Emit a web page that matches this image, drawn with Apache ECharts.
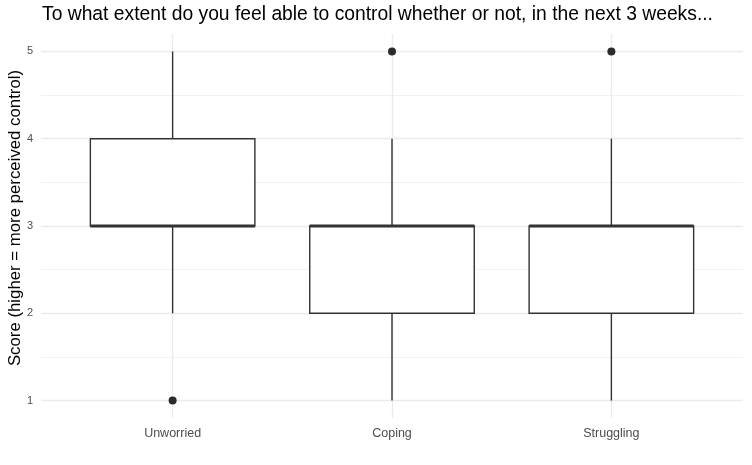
<!DOCTYPE html>
<html>
<head>
<meta charset="utf-8">
<script src="https://cdn.jsdelivr.net/npm/echarts@6/dist/echarts.min.js"></script>
<style>
  html, body { margin: 0; padding: 0; background: #fff; }
  #main { width: 752px; height: 465px; }
</style>
</head>
<body>
<div id="main"></div>
<script>
// groups on the x axis
var categories = ['Unworried', 'Coping', 'Struggling'];
// box stats: [min whisker, Q1, median, Q3, max whisker]
var boxStats = [
  [2, 3, 3, 4, 5],
  [1, 2, 3, 3, 4],
  [1, 2, 3, 3, 4]
];
// outliers: [group index (1-based), score]
var outliers = [[1, 1], [2, 5], [3, 5]];
var yTicks = [1, 2, 3, 4, 5];
var yMinorTicks = [1.5, 2.5, 3.5, 4.5];

var chart = echarts.init(document.getElementById('main'), null, { renderer: 'canvas' });

var boxData = boxStats.map(function (s, i) {
  return [i + 1].concat(s);
});

function renderBox(params, api) {
  var x = api.value(0);
  var half = 0.375;
  var pMin = api.coord([x, api.value(1)]);
  var pQ1 = api.coord([x, api.value(2)]);
  var pMed = api.coord([x, api.value(3)]);
  var pQ3 = api.coord([x, api.value(4)]);
  var pMax = api.coord([x, api.value(5)]);
  var left = api.coord([x - half, api.value(3)])[0];
  var right = api.coord([x + half, api.value(3)])[0];
  var st = { stroke: '#333333', lineWidth: 1.4, fill: null };
  return {
    type: 'group',
    children: [
      { type: 'line', shape: { x1: pQ3[0], y1: pQ3[1], x2: pMax[0], y2: pMax[1] }, style: st },
      { type: 'line', shape: { x1: pQ1[0], y1: pQ1[1], x2: pMin[0], y2: pMin[1] }, style: st },
      { type: 'rect', shape: { x: left, y: pQ3[1], width: right - left, height: pQ1[1] - pQ3[1] },
        style: { stroke: '#333333', lineWidth: 1.4, fill: '#ffffff' } },
      { type: 'line', shape: { x1: left, y1: pMed[1], x2: right, y2: pMed[1] },
        style: { stroke: '#333333', lineWidth: 3 } }
    ]
  };
}

var option = {
  animation: false,
  backgroundColor: '#ffffff',
  title: {
    text: 'To what extent do you feel able to control whether or not, in the next 3 weeks...',
    left: 42,
    top: 5,
    padding: 0,
    textStyle: { fontFamily: 'Liberation Sans', fontSize: 19.3, fontWeight: 'normal', color: '#000' }
  },
  grid: { left: 41, right: 9, top: 34, bottom: 47, outerBoundsMode: 'none', containLabel: false },
  xAxis: {
    type: 'value',
    min: 0.4,
    max: 3.6,
    axisLine: { show: false },
    axisTick: { show: false, customValues: [1, 2, 3] },
    axisLabel: {
      customValues: [1, 2, 3],
      formatter: function (v) { return categories[Math.round(v) - 1] || ''; },
      color: '#4d4d4d',
      fontFamily: 'Liberation Sans',
      fontSize: 12.5,
      margin: 9
    },
    splitLine: { show: true, lineStyle: { color: '#ebebeb', width: 1.3 } }
  },
  yAxis: [{
    type: 'value',
    min: 0.8,
    max: 5.2,
    name: 'Score (higher = more perceived control)',
    nameLocation: 'middle',
    nameGap: 17,
    nameMoveOverlap: false,
    nameTextStyle: { fontFamily: 'Liberation Sans', fontSize: 16.8, color: '#000', padding: [0, 0, 0, 16] },
    axisLine: { show: false },
    axisTick: { show: false, customValues: yTicks },
    axisLabel: {
      customValues: yTicks,
      color: '#4d4d4d',
      fontFamily: 'Liberation Sans',
      fontSize: 11,
      margin: 8
    },
    splitLine: { show: true, lineStyle: { color: '#ebebeb', width: 1.3 } }
  }, {
    type: 'value',
    min: 0.8,
    max: 5.2,
    position: 'left',
    axisLine: { show: false },
    axisTick: { show: false, customValues: yMinorTicks },
    axisLabel: { show: false },
    splitLine: { show: true, lineStyle: { color: '#f2f2f2', width: 1 } }
  }],
  series: [{
    type: 'custom',
    renderItem: renderBox,
    data: boxData,
    encode: { x: 0, y: [1, 2, 3, 4, 5] },
    z: 3
  }, {
    type: 'scatter',
    data: outliers,
    symbolSize: 8,
    itemStyle: { color: '#2b2b2b', opacity: 1 },
    z: 4
  }]
};

chart.setOption(option);
</script>
</body>
</html>
